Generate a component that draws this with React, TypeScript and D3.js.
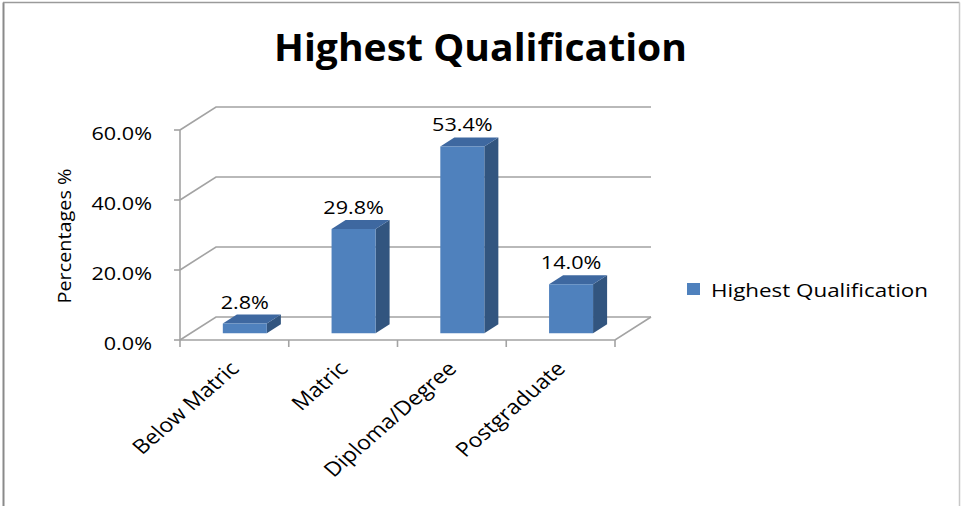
import React from "react";
import * as d3 from "d3";

const categories = ["Below Matric", "Matric", "Diploma/Degree", "Postgraduate"];
const values = [2.8, 29.8, 53.4, 14.0];
const yTicks = [0, 20, 40, 60];
const seriesName = "Highest Qualification";
const title = "Highest Qualification";
const yLabel = "Percentages %";

const W = 961;
const H = 506;
const FONT = "'Open Sans', sans-serif";

export default function App() {
  const x0 = 180, x1 = 615;
  const dx = 36, dy = -23;
  const y = d3.scaleLinear().domain([0, 60]).range([340, 130]);
  const band = d3.scaleBand<string>().domain(categories).range([x0, x1]);
  const fmt = (v: number) => d3.format(".1f")(v) + "%";
  const f0 = 0.29, f1 = 0.68;
  const barW = 44;
  const sx = 1.2;

  const P = (x: number, v: number, f: number): [number, number] => [x + f * dx, y(v) + f * dy];
  const poly = (pts: [number, number][]) => pts.map((p) => p.join(",")).join(" ");
  const grid = "#A3A3A3";

  return (
    <svg width={W} height={H} style={{ position: "absolute", left: 0, top: 0 }} fontFamily={FONT}>
      <rect x={0} y={0} width={W} height={H} fill="#fff" />
      <line x1={3.5} y1={2.5} x2={3.5} y2={H} stroke="#8a8a8a" strokeWidth={2} />
      <line x1={3} y1={2.5} x2={959.5} y2={2.5} stroke="#9a9a9a" strokeWidth={1.5} />
      <line x1={959.5} y1={2.5} x2={959.5} y2={H} stroke="#c8c8c8" strokeWidth={1.5} />

      <text x={W / 2} y={61} textAnchor="middle" fontSize={38} fontWeight="bold" textLength={413} lengthAdjust="spacingAndGlyphs" fill="#000">{title}</text>

      {yTicks.map((t) => (
        <polyline key={t} points={poly([P(x0, t, 0), P(x0, t, 1), P(x1, t, 1)])} fill="none" stroke={grid} strokeWidth={1.6} />
      ))}
      <polyline points={poly([P(x0, 0, 0), P(x1, 0, 0), P(x1, 0, 1)])} fill="none" stroke={grid} strokeWidth={1.6} />
      <line x1={x0} y1={y(0)} x2={x0} y2={y(60)} stroke={grid} strokeWidth={1.6} />
      {yTicks.map((t) => (
        <g key={"yt" + t}>
          <line x1={x0 - 6} y1={y(t)} x2={x0} y2={y(t)} stroke={grid} strokeWidth={1.6} />
          <text transform={`translate(152,${y(t) + 4}) scale(${sx},1)`} textAnchor="end" dy="0.35em" fontSize={18} fill="#000">{fmt(t)}</text>
        </g>
      ))}
      {[...categories.map((c) => band(c) as number), x1].map((xx, i) => (
        <line key={"xt" + i} x1={xx} y1={y(0)} x2={xx} y2={y(0) + 7} stroke={grid} strokeWidth={1.6} />
      ))}

      {categories.map((c, i) => {
        const cx = (band(c) as number) + band.bandwidth() / 2;
        const l = cx - barW / 2, r = cx + barW / 2;
        const v = values[i];
        const front: [number, number][] = [P(l, 0, f0), P(r, 0, f0), P(r, v, f0), P(l, v, f0)];
        const side: [number, number][] = [P(r, 0, f0), P(r, 0, f1), P(r, v, f1), P(r, v, f0)];
        const top: [number, number][] = [P(l, v, f0), P(r, v, f0), P(r, v, f1), P(l, v, f1)];
        const fc = P(cx, v, f0);
        return (
          <g key={c}>
            <polygon points={poly(side)} fill="#32557F" />
            <polygon points={poly(top)} fill="#3E68A0" />
            <polygon points={poly(front)} fill="#4F81BD" />
            <text transform={`translate(${fc[0]},${fc[1] - 15}) scale(${sx},1)`} textAnchor="middle" fontSize={18} fill="#000">{fmt(v)}</text>
            <text transform={`translate(${cx + 6},370) scale(1.15,1) rotate(-45)`} textAnchor="end" fontSize={20} fill="#000">{c}</text>
          </g>
        );
      })}

      <text transform="translate(71,236) rotate(-90)" textAnchor="middle" fontSize={18} textLength={135} lengthAdjust="spacingAndGlyphs" fill="#000">{yLabel}</text>

      <rect x={687} y={283} width={13} height={12} fill="#4F81BD" />
      <text x={711} y={297} fontSize={19} textLength={217} lengthAdjust="spacingAndGlyphs" fill="#000">{seriesName}</text>
    </svg>
  );
}
